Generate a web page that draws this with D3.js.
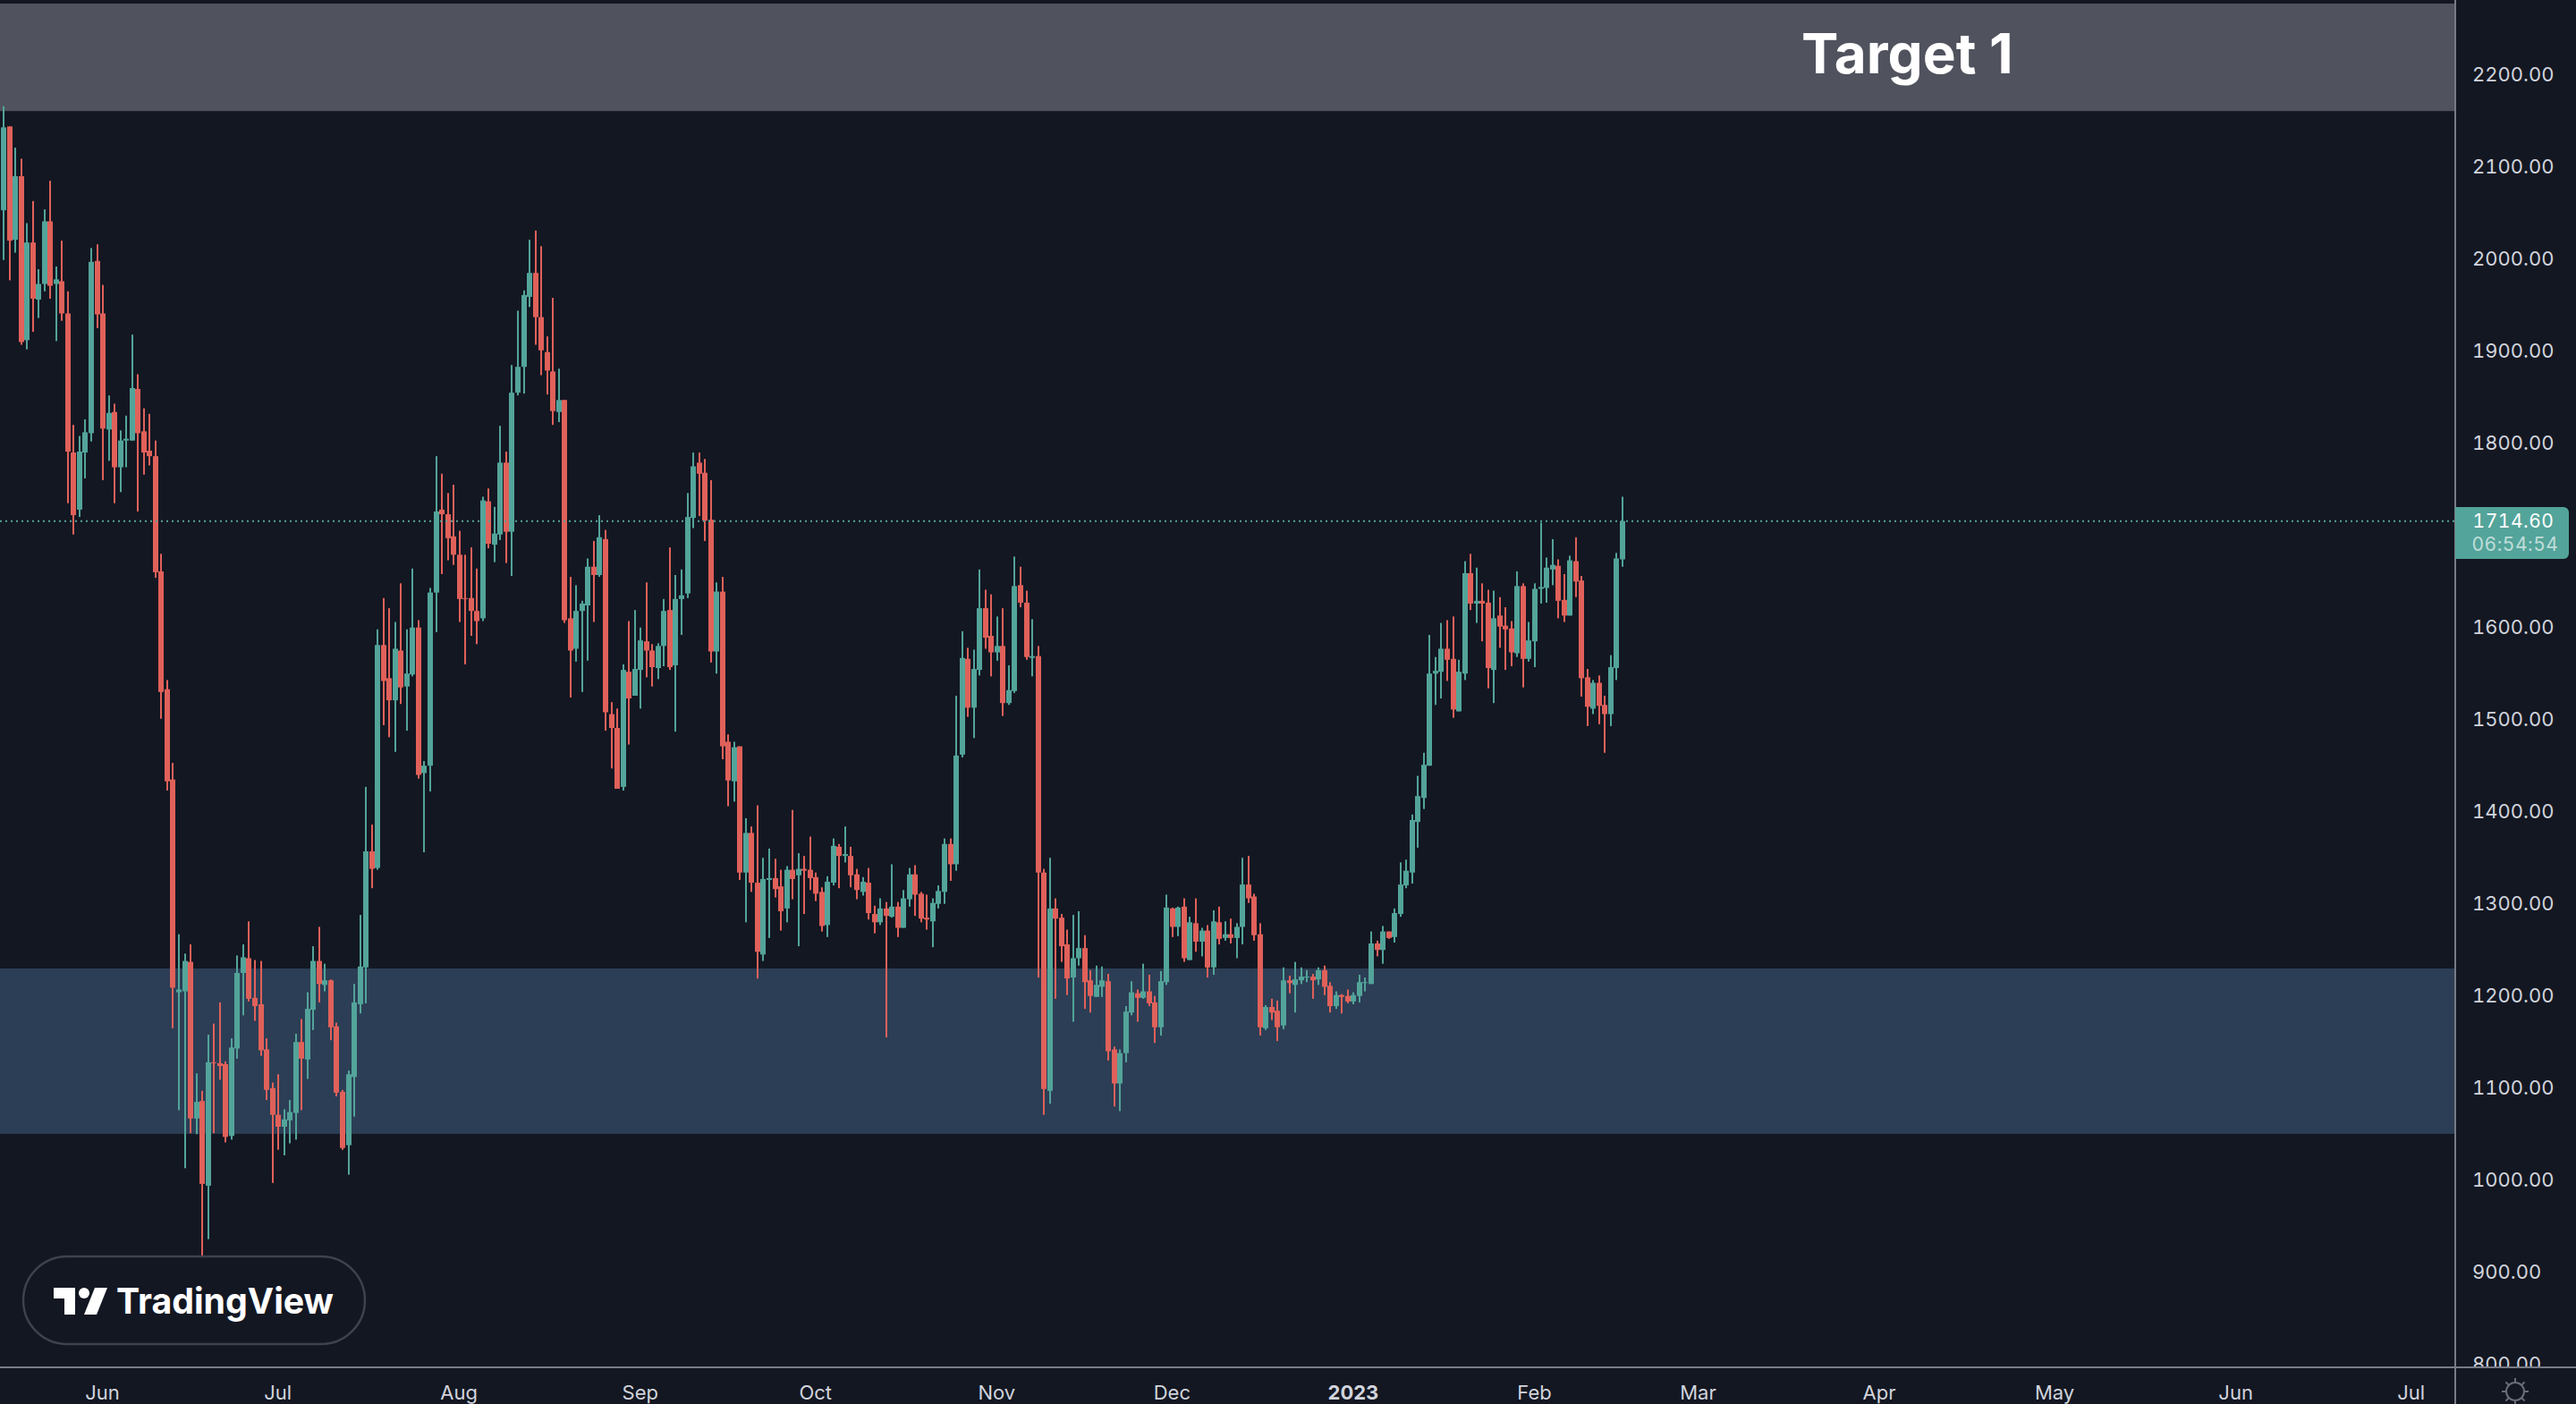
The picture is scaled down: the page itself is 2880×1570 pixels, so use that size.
<!DOCTYPE html>
<html>
<head>
<meta charset="utf-8">
<script src="https://cdn.jsdelivr.net/npm/d3@7"></script>
<style>
  html, body { margin: 0; padding: 0; background: #131722; }
  svg { display: block; }
  .num { font-variant-numeric: tabular-nums; }
</style>
</head>
<body>
<div id="chart"></div>
<script>
// daily candles, first one is 15 May 2022
var firstDay = Date.UTC(2022, 4, 15);

var opens = [
  2052,2143,2020,2089,1911,2017,1955,1972,2040,1972,
  1975,1940,1789,1727,1789,1810,1997,1940,1814,1833,
  1773,1802,1802,1858,1812,1791,1785,1660,1532,1434,
  1203,1204,1236,1066,1085,993,1127,1126,1125,1047,
  1142,1224,1240,1197,1190,1141,1099,1070,1057,1064,
  1072,1149,1130,1184,1237,1211,1216,1166,1095,1037,
  1111,1190,1230,1356,1338,1580,1544,1520,1574,1535,
  1548,1599,1441,1449,1637,1727,1722,1698,1678,1631,
  1631,1617,1609,1736,1689,1700,1778,1703,1854,1882,
  1958,1984,1936,1898,1877,1833,1846,1609,1576,1617,
  1623,1665,1656,1695,1505,1490,1426,1551,1525,1553,
  1584,1574,1555,1579,1618,1558,1630,1636,1718,1778,
  1767,1716,1573,1638,1475,1432,1470,1333,1376,1322,
  1244,1325,1327,1318,1294,1336,1330,1337,1336,1328,
  1312,1276,1322,1361,1351,1351,1331,1312,1322,1288,
  1279,1294,1285,1296,1273,1304,1331,1310,1284,1280,
  1299,1312,1364,1342,1461,1565,1512,1553,1620,1590,
  1572,1579,1517,1530,1645,1626,1566,1568,1333,1096,
  1294,1284,1255,1219,1240,1251,1216,1198,1209,1215,
  1141,1104,1137,1181,1202,1197,1204,1192,1165,1214,
  1294,1274,1296,1238,1278,1258,1270,1230,1279,1262,
  1266,1262,1274,1320,1307,1266,1164,1187,1183,1167,
  1216,1211,1216,1219,1220,1217,1227,1210,1188,1200,
  1199,1193,1199,1213,1212,1256,1249,1269,1263,1288,
  1319,1333,1388,1414,1449,1549,1551,1576,1565,1508,
  1549,1658,1625,1628,1626,1553,1612,1601,1598,1571,
  1644,1565,1584,1641,1642,1662,1666,1629,1612,1671,
  1650,1545,1511,1539,1515,1505,1555,1673
];
var highs = [
  2165,2143,2120,2108,2038,2062,1988,2053,2084,1991,
  2019,1964,1819,1807,1825,2011,2015,1971,1851,1842,
  1813,1829,1917,1874,1837,1831,1802,1679,1542,1452,
  1266,1245,1255,1115,1096,1157,1169,1192,1128,1153,
  1243,1255,1280,1238,1237,1153,1105,1114,1076,1086,
  1158,1174,1203,1253,1274,1234,1217,1170,1097,1118,
  1212,1287,1426,1385,1597,1631,1620,1605,1647,1597,
  1663,1607,1454,1642,1785,1766,1745,1754,1704,1678,
  1686,1663,1741,1750,1730,1818,1790,1884,1943,1965,
  2020,2030,2013,1915,1957,1880,1846,1654,1645,1628,
  1674,1693,1721,1705,1518,1511,1559,1606,1618,1599,
  1648,1581,1582,1630,1686,1656,1662,1745,1789,1789,
  1782,1759,1648,1654,1483,1475,1470,1392,1383,1406,
  1349,1359,1348,1336,1340,1401,1354,1351,1372,1333,
  1317,1329,1370,1364,1383,1361,1337,1328,1338,1297,
  1305,1301,1342,1301,1314,1338,1341,1312,1309,1305,
  1319,1370,1370,1525,1595,1577,1575,1662,1640,1635,
  1611,1620,1558,1676,1665,1639,1608,1579,1337,1349,
  1305,1288,1271,1287,1291,1265,1227,1232,1231,1223,
  1144,1141,1188,1215,1206,1234,1222,1199,1226,1309,
  1295,1296,1305,1285,1305,1273,1276,1292,1296,1280,
  1283,1278,1349,1351,1310,1278,1189,1196,1194,1230,
  1221,1236,1230,1227,1223,1230,1232,1214,1204,1201,
  1206,1203,1222,1219,1269,1259,1275,1269,1294,1344,
  1347,1396,1438,1463,1591,1567,1604,1607,1611,1564,
  1671,1679,1664,1647,1640,1639,1632,1621,1606,1660,
  1647,1605,1647,1713,1675,1695,1673,1657,1677,1697,
  1655,1554,1542,1547,1525,1569,1680,1741
];
var lows = [
  1998,1976,2006,1906,1901,1920,1935,1964,1956,1910,
  1932,1734,1700,1719,1761,1801,1924,1759,1780,1734,
  1746,1773,1802,1725,1765,1775,1653,1500,1422,1164,
  1075,1012,1050,1049,881,935,1050,1108,1040,1043,
  1131,1178,1193,1172,1134,1086,996,1032,1026,1039,
  1043,1075,1109,1162,1192,1204,1151,1090,1032,1005,
  1068,1180,1191,1316,1336,1493,1480,1464,1516,1487,
  1546,1435,1355,1421,1594,1657,1672,1667,1605,1559,
  1590,1581,1606,1685,1670,1694,1669,1655,1851,1853,
  1947,1906,1873,1852,1819,1822,1604,1523,1562,1529,
  1563,1605,1654,1487,1446,1424,1422,1472,1525,1511,
  1545,1535,1543,1557,1553,1486,1591,1631,1707,1720,
  1693,1561,1549,1456,1405,1410,1325,1279,1312,1218,
  1237,1262,1306,1270,1279,1304,1253,1288,1314,1302,
  1269,1263,1319,1316,1344,1317,1304,1308,1282,1267,
  1276,1154,1284,1263,1273,1296,1286,1279,1271,1252,
  1294,1299,1324,1335,1458,1502,1479,1547,1576,1546,
  1563,1503,1515,1528,1621,1564,1546,1219,1070,1082,
  1196,1236,1200,1171,1232,1185,1181,1198,1198,1129,
  1079,1074,1127,1178,1171,1196,1188,1148,1156,1211,
  1263,1264,1236,1238,1247,1242,1219,1222,1255,1259,
  1256,1240,1255,1300,1259,1156,1162,1173,1150,1163,
  1202,1181,1212,1214,1196,1211,1200,1181,1185,1180,
  1191,1190,1192,1204,1212,1242,1234,1261,1257,1285,
  1316,1321,1360,1402,1449,1515,1522,1541,1501,1508,
  1542,1618,1604,1584,1533,1517,1577,1553,1557,1567,
  1534,1562,1556,1625,1626,1645,1609,1605,1612,1632,
  1524,1492,1505,1494,1463,1492,1542,1665
];
var closes = [
  2142,2019,2089,1909,2017,1956,1972,2040,1970,1977,
  1940,1790,1721,1790,1811,1996,1939,1815,1832,1773,
  1802,1804,1859,1810,1789,1785,1659,1529,1432,1208,
  1206,1237,1066,1084,995,1127,1126,1123,1046,1143,
  1224,1241,1196,1188,1140,1097,1070,1057,1065,1073,
  1149,1131,1185,1237,1212,1216,1165,1094,1034,1114,
  1192,1231,1356,1337,1580,1541,1520,1576,1534,1549,
  1599,1439,1449,1637,1725,1722,1696,1678,1630,1630,
  1617,1606,1737,1690,1701,1778,1703,1854,1882,1960,
  1984,1936,1900,1878,1834,1846,1607,1574,1617,1625,
  1665,1656,1697,1507,1490,1424,1553,1522,1554,1585,
  1574,1556,1579,1617,1556,1630,1634,1719,1774,1766,
  1715,1573,1638,1470,1433,1469,1333,1376,1322,1247,
  1326,1327,1315,1291,1336,1326,1337,1335,1327,1310,
  1275,1323,1362,1351,1353,1330,1314,1323,1289,1279,
  1294,1286,1296,1273,1305,1331,1309,1283,1282,1300,
  1313,1364,1342,1460,1566,1512,1554,1620,1588,1572,
  1579,1517,1531,1644,1626,1567,1568,1333,1098,1294,
  1283,1253,1218,1240,1251,1214,1199,1211,1216,1139,
  1104,1137,1182,1203,1197,1204,1191,1165,1215,1295,
  1274,1295,1240,1279,1258,1270,1230,1280,1261,1266,
  1262,1274,1320,1305,1265,1165,1187,1181,1165,1216,
  1213,1217,1220,1220,1216,1227,1209,1188,1200,1198,
  1193,1200,1214,1214,1256,1249,1269,1262,1289,1320,
  1335,1390,1416,1450,1549,1552,1576,1564,1510,1551,
  1658,1625,1628,1625,1555,1609,1600,1597,1572,1644,
  1565,1585,1641,1643,1664,1667,1628,1612,1672,1649,
  1544,1513,1539,1514,1505,1556,1674,1714.6
];

// 1700 is not listed, the last price tag sits on top of it
var priceTicks = [800,900,1000,1100,1200,1300,1400,1500,1600,1800,1900,2000,2100,2200];
var monthTicks = ["2022-06-01","2022-07-01","2022-08-01","2022-09-01","2022-10-01","2022-11-01","2022-12-01",
                  "2023-01-01","2023-02-01","2023-03-01","2023-04-01","2023-05-01","2023-06-01","2023-07-01"];
var monthLabels = ["Jun","Jul","Aug","Sep","Oct","Nov","Dec","2023","Feb","Mar","Apr","May","Jun","Jul"];

var targetZone = [2159.7, 2276.4];
var supportZone = [1049.3, 1228.9];
var lastPrice = 1714.6;
var countdown = "06:54:54";

var W = 2880, H = 1570, axisX = 2745, axisY = 1529;
var green = "#53a49a", red = "#e0615a", bg = "#131722", lineCol = "#787b86", textCol = "#d1d4dc";
var fontName = "Inter, Roboto, sans-serif";
var dayMs = 86400000;

var candles = opens.map(function(o, i) {
  return {date: new Date(firstDay + i * dayMs), o: o, h: highs[i], l: lows[i], c: closes[i]};
});

var x = d3.scaleUtc()
  .domain([new Date(firstDay), new Date(firstDay + 277 * dayMs)])
  .range([4, 1814]);

var y = d3.scaleLinear()
  .domain([800, 2200])
  .range([1524.7, 82.7]);

var svg = d3.select("#chart").append("svg")
  .attr("width", W)
  .attr("height", H);

svg.append("rect").attr("width", W).attr("height", H).attr("fill", bg);

var defs = svg.append("defs");
defs.append("clipPath").attr("id", "plotClip").append("rect")
  .attr("width", axisX).attr("height", axisY);
defs.append("clipPath").attr("id", "priceClip").append("rect")
  .attr("x", axisX).attr("width", W - axisX).attr("height", axisY);

var plot = svg.append("g").attr("clip-path", "url(#plotClip)");

// the two zones
plot.append("rect")
  .attr("x", 0).attr("width", axisX)
  .attr("y", y(targetZone[1]))
  .attr("height", y(targetZone[0]) - y(targetZone[1]))
  .attr("fill", "#50535e");
plot.append("rect")
  .attr("x", 0).attr("width", axisX)
  .attr("y", y(supportZone[1]))
  .attr("height", y(supportZone[0]) - y(supportZone[1]))
  .attr("fill", "#2c3e55");

// wicks
plot.selectAll(".wick")
  .data(candles)
  .enter()
  .append("rect")
    .attr("class", "wick")
    .attr("x", function(d) { return Math.round(x(d.date)) - 1; })
    .attr("width", 2)
    .attr("y", function(d) { return y(d.h); })
    .attr("height", function(d) { return y(d.l) - y(d.h); })
    .attr("fill", function(d) { return d.c >= d.o ? green : red; });

// bodies
plot.selectAll(".body")
  .data(candles)
  .enter()
  .append("rect")
    .attr("class", "body")
    .attr("x", function(d) { return Math.round(x(d.date)) - 3; })
    .attr("width", 6)
    .attr("y", function(d) { return y(Math.max(d.o, d.c)); })
    .attr("height", function(d) { return Math.max(1, Math.abs(y(d.o) - y(d.c))); })
    .attr("fill", function(d) { return d.c >= d.o ? green : red; });

// last price line
plot.append("line")
  .attr("x1", 0).attr("x2", axisX)
  .attr("y1", y(lastPrice)).attr("y2", y(lastPrice))
  .attr("stroke", green)
  .attr("stroke-width", 2)
  .attr("stroke-dasharray", "2,4");

plot.append("text")
  .attr("x", 2014)
  .attr("y", 82)
  .attr("fill", "#ffffff")
  .style("font-family", fontName)
  .style("font-size", "62px")
  .style("font-weight", 700)
  .text("Target 1");

// price axis
var yAxis = svg.append("g")
  .attr("clip-path", "url(#priceClip)")
  .append("g")
  .attr("transform", "translate(" + axisX + ",0)")
  .call(d3.axisRight(y).tickValues(priceTicks).tickSize(0).tickPadding(19).tickFormat(d3.format(".2f")));
yAxis.select(".domain").remove();
yAxis.selectAll("text")
  .attr("class", "num")
  .attr("dy", "0.36em")
  .attr("fill", textCol)
  .style("font-family", fontName)
  .style("font-size", "22px");

// time axis
var monthDates = monthTicks.map(function(s) { return new Date(s + "T00:00:00Z"); });
var xAxis = svg.append("g")
  .attr("transform", "translate(0," + axisY + ")")
  .call(d3.axisBottom(x).tickValues(monthDates).tickSize(0).tickFormat(function(d, i) { return monthLabels[i]; }));
xAxis.select(".domain").remove();
xAxis.selectAll("text")
  .attr("x", -1)
  .attr("y", 29)
  .attr("dy", "0.32em")
  .attr("fill", textCol)
  .style("font-family", fontName)
  .style("font-size", "22px")
  .style("font-weight", function(d, i) { return monthLabels[i] === "2023" ? 700 : 400; });

// axis frame
svg.append("line").attr("x1", 0).attr("x2", W).attr("y1", axisY).attr("y2", axisY)
  .attr("stroke", lineCol).attr("stroke-width", 2);
svg.append("line").attr("x1", axisX).attr("x2", axisX).attr("y1", 0).attr("y2", H)
  .attr("stroke", lineCol).attr("stroke-width", 2);

// last price tag
svg.append("path")
  .attr("d", "M" + axisX + " 567H2866a6 6 0 0 1 6 6V619a6 6 0 0 1 -6 6H" + axisX + "Z")
  .attr("fill", green);
svg.append("text")
  .attr("class", "num")
  .attr("x", 2810).attr("y", 582).attr("dy", "0.36em")
  .attr("text-anchor", "middle")
  .attr("fill", "#ffffff")
  .style("font-family", fontName).style("font-size", "21px").style("letter-spacing", "0.5px")
  .text(d3.format(".2f")(lastPrice));
svg.append("text")
  .attr("class", "num")
  .attr("x", 2812).attr("y", 608).attr("dy", "0.36em")
  .attr("text-anchor", "middle")
  .attr("fill", "#ffffff").attr("fill-opacity", 0.65)
  .style("font-family", fontName).style("font-size", "21px").style("letter-spacing", "0.5px")
  .text(countdown);

// settings icon
var gear = svg.append("g").attr("transform", "translate(2812,1556)")
  .attr("stroke", "#6a6d78").attr("stroke-width", 2).attr("fill", "none");
gear.append("circle").attr("r", 10);
gear.selectAll("line")
  .data(d3.range(8))
  .enter()
  .append("line")
    .attr("y1", -10).attr("y2", -15)
    .attr("transform", function(d) { return "rotate(" + d * 45 + ")"; });

// TradingView badge
var logo = svg.append("g");
logo.append("rect")
  .attr("x", 26).attr("y", 1405)
  .attr("width", 382).attr("height", 98)
  .attr("rx", 49)
  .attr("fill", bg)
  .attr("stroke", "#3f424d")
  .attr("stroke-width", 2.5);
logo.append("path")
  .attr("d", "M60 1440H84V1470H72V1452H60Z M106 1440H120L108 1470H94Z")
  .attr("fill", "#ffffff");
logo.append("circle").attr("cx", 94).attr("cy", 1446).attr("r", 6).attr("fill", "#ffffff");
logo.append("text")
  .attr("x", 130).attr("y", 1469)
  .attr("textLength", 243)
  .attr("lengthAdjust", "spacingAndGlyphs")
  .attr("fill", "#ffffff")
  .style("font-family", fontName)
  .style("font-size", "40px")
  .style("font-weight", 700)
  .text("TradingView");
</script>
</body>
</html>
